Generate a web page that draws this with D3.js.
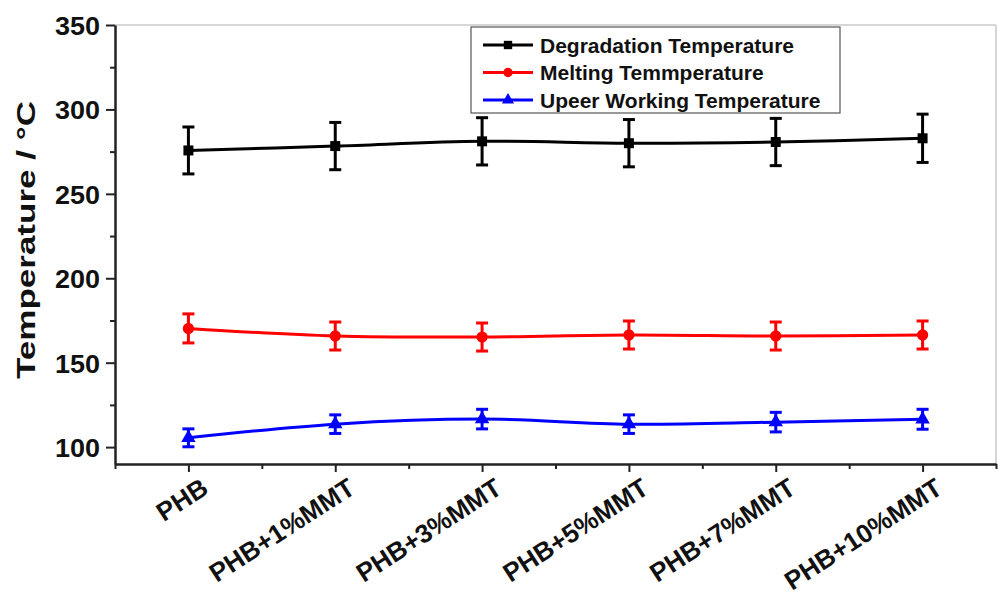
<!DOCTYPE html>
<html>
<head>
<meta charset="utf-8">
<script src="https://cdn.jsdelivr.net/npm/d3@7"></script>
<style>
  body { margin: 0; background: #fff; }
  svg text { font-family: "Liberation Sans", Arial, sans-serif; font-weight: bold; fill: #111; }
</style>
</head>
<body>
<div id="chart"></div>
<script>
// --- data ---
const categories = ['PHB', 'PHB+1%MMT', 'PHB+3%MMT', 'PHB+5%MMT', 'PHB+7%MMT', 'PHB+10%MMT'];

const degradation = [275.7, 278.3, 281.1, 280.0, 280.7, 282.9];
const degradationErr = [13.9, 14.0, 14.0, 14.0, 14.0, 14.3];

const melting = [170.3, 165.8, 165.2, 166.4, 165.8, 166.4];
const meltingErr = [8.6, 8.3, 8.3, 8.3, 8.3, 8.3];

const working = [105.5, 113.6, 116.6, 113.6, 114.8, 116.5];
const workingErr = [5.3, 5.5, 5.8, 5.5, 5.8, 5.9];

const yTicks = [100, 150, 200, 250, 300, 350];
const seriesNames = ['Degradation Temperature', 'Melting Temmperature', 'Upeer Working Temperature'];

// --- sizing ---
const W = 998, H = 598;
const margin = { top: 25, right: 2, bottom: 134, left: 115 };
const width = W - margin.left - margin.right;
const height = H - margin.top - margin.bottom;

const svg = d3.select('#chart').append('svg')
  .attr('width', W).attr('height', H);

const g = svg.append('g')
  .attr('transform', `translate(${margin.left},${margin.top})`);

// scales
const x = d3.scaleLinear().domain([-0.5, categories.length - 0.5]).range([0, width]);
const y = d3.scaleLinear().domain([90, 350]).range([height, 0]);

// frame: light top/right border
g.append('line').attr('x1', 0).attr('x2', width).attr('y1', 0).attr('y2', 0)
  .attr('stroke', '#c8c8c8').attr('stroke-width', 1.5);
g.append('line').attr('x1', width).attr('x2', width).attr('y1', 0).attr('y2', height)
  .attr('stroke', '#c8c8c8').attr('stroke-width', 1.5);

// y axis (major + minor)
const yMinor = d3.range(100, 351, 25).filter(v => v % 50 !== 0);
g.append('g').attr('class', 'y-minor')
  .call(d3.axisLeft(y).tickValues(yMinor).tickSize(5).tickFormat(''))
  .call(s => s.select('.domain').remove())
  .selectAll('line').attr('stroke', '#222').attr('stroke-width', 2);

const yAxis = g.append('g').attr('class', 'y-axis')
  .call(d3.axisLeft(y).tickValues(yTicks).tickSize(9).tickPadding(6).tickSizeOuter(0));
yAxis.select('.domain').attr('stroke', '#222').attr('stroke-width', 2.5);
yAxis.selectAll('.tick line').attr('stroke', '#222').attr('stroke-width', 2);
yAxis.selectAll('.tick text').style('font-size', '26px').attr('dy', '0.36em')
  .attr('textLength', 45).attr('lengthAdjust', 'spacingAndGlyphs');

// x axis (major at categories, minor between)
const xMinor = d3.range(-0.5, categories.length, 1);
g.append('g').attr('transform', `translate(0,${height})`)
  .call(d3.axisBottom(x).tickValues(xMinor).tickSize(5).tickFormat(''))
  .call(s => s.select('.domain').remove())
  .selectAll('line').attr('stroke', '#222').attr('stroke-width', 2);

const xAxis = g.append('g').attr('transform', `translate(0,${height})`)
  .call(d3.axisBottom(x).tickValues(d3.range(categories.length)).tickSize(8).tickSizeOuter(0)
    .tickFormat(i => categories[i]));
xAxis.select('.domain').attr('stroke', '#222').attr('stroke-width', 2.5);
xAxis.selectAll('.tick line').attr('stroke', '#222').attr('stroke-width', 2);
xAxis.selectAll('.tick text')
  .style('font-size', '26px')
  .attr('text-anchor', 'end')
  .attr('dy', 0)
  .attr('transform', 'translate(15,19) rotate(-33)');

// y label
svg.append('text')
  .attr('transform', `translate(35,240) rotate(-90)`)
  .attr('text-anchor', 'middle')
  .style('font-size', '25px')
  .attr('textLength', 278).attr('lengthAdjust', 'spacingAndGlyphs')
  .text('Temperature / \u00B0C');

// series
const series = [
  { name: seriesNames[0], values: degradation, err: degradationErr, color: '#000000', marker: d3.symbolSquare, size: 100 },
  { name: seriesNames[1], values: melting, err: meltingErr, color: '#ff0000', marker: d3.symbolCircle, size: 100 },
  { name: seriesNames[2], values: working, err: workingErr, color: '#0000ff', marker: d3.symbolTriangle, size: 90 }
];

const line = d3.line()
  .x((d, i) => x(i))
  .y(d => y(d))
  .curve(d3.curveCatmullRom.alpha(0.5));

series.forEach(s => {
  const sg = g.append('g');
  sg.append('path')
    .datum(s.values)
    .attr('fill', 'none')
    .attr('stroke', s.color)
    .attr('stroke-width', 3)
    .attr('d', line);

  // error bars
  const eb = sg.selectAll('.err').data(s.values).enter().append('g');
  eb.append('line')
    .attr('x1', (d, i) => x(i)).attr('x2', (d, i) => x(i))
    .attr('y1', (d, i) => y(d + s.err[i])).attr('y2', (d, i) => y(d - s.err[i]))
    .attr('stroke', s.color).attr('stroke-width', 3);
  [1, -1].forEach(sign => {
    eb.append('line')
      .attr('x1', (d, i) => x(i) - 6).attr('x2', (d, i) => x(i) + 6)
      .attr('y1', (d, i) => y(d + sign * s.err[i])).attr('y2', (d, i) => y(d + sign * s.err[i]))
      .attr('stroke', s.color).attr('stroke-width', 3);
  });

  sg.selectAll('.mk').data(s.values).enter().append('path')
    .attr('transform', (d, i) => `translate(${x(i)},${y(d)})`)
    .attr('d', d3.symbol().type(s.marker).size(s.size))
    .attr('fill', s.color);
});

// legend
const lg = svg.append('g').attr('transform', 'translate(471,27)');
lg.append('rect')
  .attr('width', 369).attr('height', 86)
  .attr('fill', '#fff').attr('stroke', '#555').attr('stroke-width', 1.2);

series.forEach((s, i) => {
  const row = lg.append('g').attr('transform', `translate(0,${18 + i * 27.5})`);
  row.append('line').attr('x1', 12).attr('x2', 62).attr('y1', 0).attr('y2', 0)
    .attr('stroke', s.color).attr('stroke-width', 3);
  row.append('path').attr('transform', 'translate(37,0)')
    .attr('d', d3.symbol().type(s.marker).size(s.size * 0.7))
    .attr('fill', s.color);
  row.append('text').attr('x', 69).attr('y', 0).attr('dy', '0.36em')
    .style('font-size', '21px')
    .text(s.name);
});
</script>
</body>
</html>
